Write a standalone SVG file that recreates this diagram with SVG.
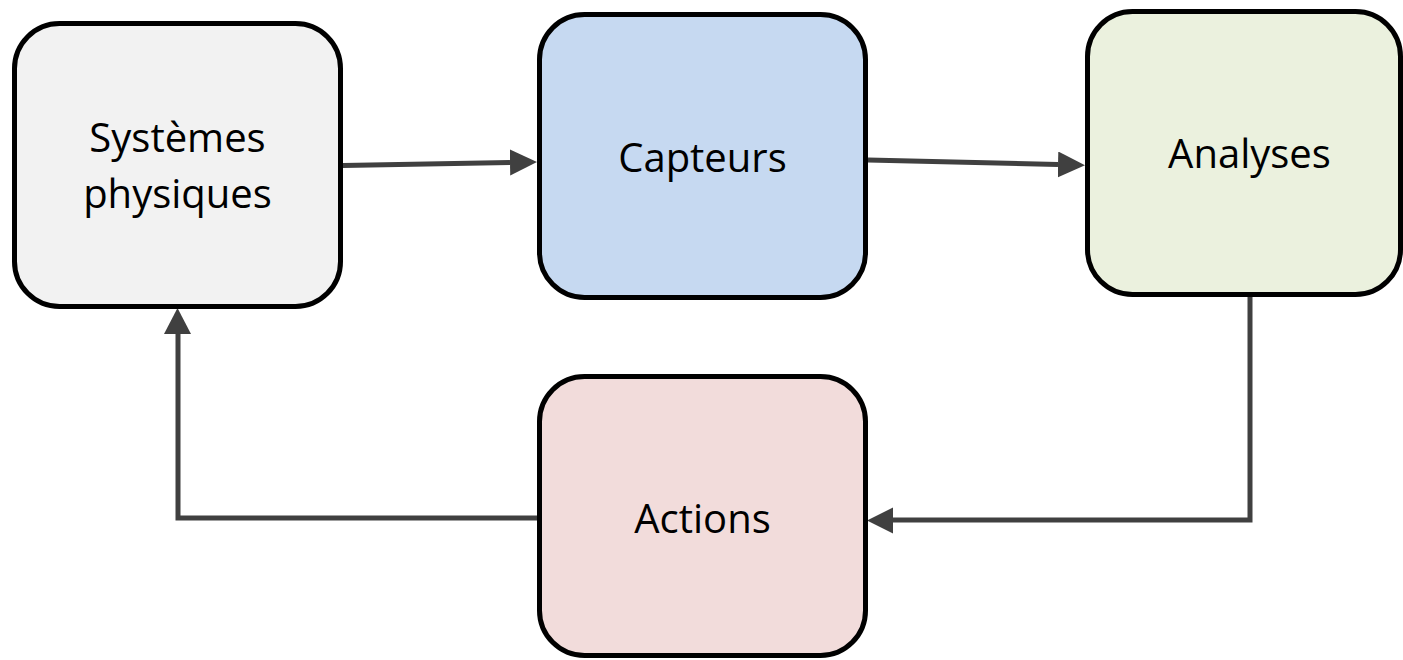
<svg xmlns="http://www.w3.org/2000/svg" width="1403" height="660" viewBox="0 0 1403 660">
<style>
.box{stroke:#000;stroke-width:5}
.lbl{font-family:"Open Sans","Noto Sans",sans-serif;font-size:40px;fill:#000;text-anchor:middle}
.con{fill:none;stroke:#404040;stroke-width:5}
.head{fill:#404040}
</style>
<defs>
<marker id="ah" markerUnits="userSpaceOnUse" markerWidth="28" markerHeight="27" refX="0" refY="13" orient="auto">
<path class="head" d="M0,0 L27,13 L0,26 z"/>
</marker>
</defs>
<rect width="1403" height="660" fill="#fff"/>
<g id="connectors">
<path class="con" d="M343,165.5 L510,162.5" marker-end="url(#ah)"/>
<path class="con" d="M868,160 L1058,164.5" marker-end="url(#ah)"/>
<path class="con" d="M1250,297 L1250,520 L892,520"/>
<path class="head" d="M867,520.5 L893,507.5 L893,533.5 z"/>
<path class="con" d="M537,518 L178,518 L178,334"/>
<path class="head" d="M177.5,308 L191,334 L164,334 z"/>
</g>
<g id="systemes">
<rect class="box" x="14.5" y="23.5" width="326" height="283" rx="45" fill="#f2f2f2"/>
<text class="lbl" x="177.5" y="152">Systèmes</text>
<text class="lbl" x="177.5" y="208">physiques</text>
</g>
<g id="capteurs">
<rect class="box" x="539.5" y="14.5" width="326" height="283" rx="45" fill="#c6d9f1"/>
<text class="lbl" x="702.5" y="172">Capteurs</text>
</g>
<g id="analyses">
<rect class="box" x="1087.5" y="11.5" width="313" height="283" rx="45" fill="#ebf1de"/>
<text class="lbl" x="1249.5" y="168">Analyses</text>
</g>
<g id="actions">
<rect class="box" x="539.5" y="376.5" width="326" height="279" rx="45" fill="#f2dcdb"/>
<text class="lbl" x="702.5" y="533">Actions</text>
</g>
</svg>
